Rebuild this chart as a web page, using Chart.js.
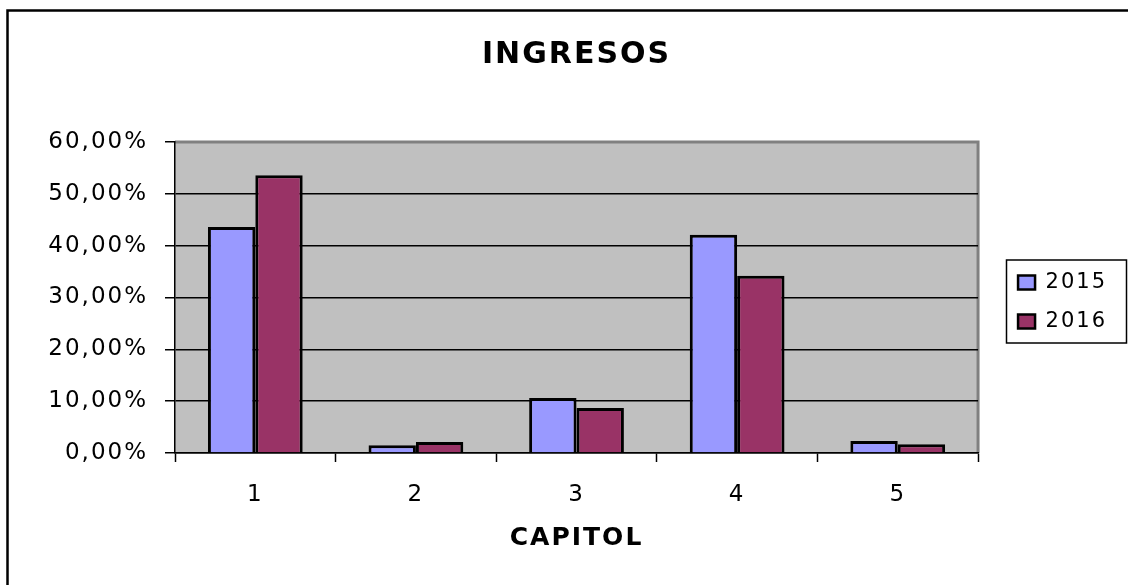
<!DOCTYPE html>
<html>
<head>
<meta charset="utf-8">
<script src="https://cdn.jsdelivr.net/npm/chart.js@4/dist/chart.umd.min.js"></script>
<style>
  html, body { margin: 0; padding: 0; background: #fff; }
  #wrap { width: 1128px; height: 585px; }
</style>
</head>
<body>
<div id="wrap"><canvas id="barchart" width="1128" height="585"></canvas></div>
<script>
var capitols = ["1", "2", "3", "4", "5"];
var dades2015 = [43.6, 1.5, 10.6, 42.1, 2.3];
var dades2016 = [53.6, 2.1, 8.7, 34.2, 1.7];
var anys = ["2015", "2016"];
var yTicks = [0, 10, 20, 30, 40, 50, 60];

var FONT = "'DejaVu Sans', 'Liberation Sans', Arial, sans-serif";
var SPACING = '2px';

// fons, vores i caixa de la llegenda
var extrasPlugin = {
    id: 'extras',
    beforeLayout: function(chart) { chart.ctx.letterSpacing = SPACING; },
    beforeDraw: function(chart) {
        var ctx = chart.ctx, a = chart.chartArea;
        ctx.letterSpacing = SPACING;

        // moure la llegenda una mica (dreta i amunt)
        var lg = chart.legend;
        if (lg) {
            var dx = 22, dy = -9;
            lg.left += dx; lg.right += dx; lg.top += dy; lg.bottom += dy;
            lg.legendHitBoxes.forEach(function(h) { h.left += dx; h.top += dy; });
        }

        ctx.save();
        ctx.fillStyle = '#c0c0c0';
        ctx.fillRect(a.left, a.top, a.right - a.left, a.bottom - a.top);
        ctx.strokeStyle = '#808080';
        ctx.lineWidth = 3;
        ctx.beginPath();
        ctx.moveTo(a.left, a.top);
        ctx.lineTo(a.right, a.top);
        ctx.lineTo(a.right, a.bottom);
        ctx.stroke();
        // vora exterior (esquerra i dalt)
        ctx.strokeStyle = '#000';
        ctx.lineWidth = 2.5;
        ctx.beginPath();
        ctx.moveTo(7.5, 585);
        ctx.lineTo(7.5, 10.5);
        ctx.lineTo(1128, 10.5);
        ctx.stroke();
        ctx.restore();
    },
    afterDraw: function(chart) {
        var lg = chart.legend;
        if (!lg || !lg.legendHitBoxes.length) return;
        var hb = lg.legendHitBoxes;
        var top = hb[0].top, bottom = hb[hb.length - 1].top + hb[hb.length - 1].height;
        var ctx = chart.ctx;
        ctx.save();
        ctx.strokeStyle = '#000';
        ctx.lineWidth = 1.5;
        ctx.strokeRect(1006.5, top - 12, 120, bottom - top + 23);
        ctx.restore();
    }
};

function barchart() {
    var ctx = document.getElementById('barchart').getContext('2d');
    var chart = new Chart(ctx, {
        type: 'bar',
        data: {
            labels: capitols,
            datasets: [{
                label: anys[0],
                backgroundColor: '#9999ff',
                borderColor: '#000',
                borderWidth: 3,
                data: dades2015
            }, {
                label: anys[1],
                backgroundColor: '#993366',
                borderColor: '#000',
                borderWidth: 3,
                data: dades2016
            }]
        },
        options: {
            responsive: false,
            animation: false,
            barPercentage: 1,
            categoryPercentage: 0.59,
            layout: { padding: { top: 37, left: 0, right: 33, bottom: 0 } },
            plugins: {
                tooltip: { enabled: false },
                title: {
                    display: true,
                    text: 'INGRESOS',
                    fullSize: false,
                    color: '#000',
                    font: { family: FONT, size: 30, weight: 'bold' },
                    padding: { top: 0, bottom: 69 }
                },
                legend: {
                    position: 'right',
                    align: 'center',
                    labels: {
                        color: '#000',
                        font: { family: FONT, size: 21 },
                        boxWidth: 17,
                        boxHeight: 14,
                        padding: 18,
                        generateLabels: function(ch) {
                            return ch.data.datasets.map(function(ds, i) {
                                return {
                                    text: ds.label,
                                    fillStyle: ds.backgroundColor,
                                    strokeStyle: '#000',
                                    lineWidth: 2.5,
                                    fontColor: '#000',
                                    datasetIndex: i
                                };
                            });
                        }
                    }
                }
            },
            scales: {
                x: {
                    afterFit: function(s) { s.height = 132; },
                    border: { color: '#000', width: 1.5 },
                    grid: {
                        drawOnChartArea: false,
                        drawTicks: true,
                        tickLength: 9,
                        tickColor: '#000',
                        tickWidth: 1.5
                    },
                    ticks: {
                        color: '#000',
                        font: { family: FONT, size: 23 },
                        padding: 19
                    },
                    title: {
                        display: true,
                        text: 'CAPITOL',
                        color: '#000',
                        font: { family: FONT, size: 25, weight: 'bold' },
                        padding: { top: 0, bottom: 32 }
                    }
                },
                y: {
                    min: 0,
                    max: 60,
                    afterFit: function(s) { s.width = 175; },
                    afterBuildTicks: function(s) {
                        s.ticks = yTicks.map(function(v) { return { value: v }; });
                    },
                    border: { color: '#000', width: 1.5 },
                    grid: {
                        color: function(c) { return c.tick && c.tick.value === 60 ? 'rgba(0,0,0,0)' : '#000'; },
                        lineWidth: 1.5,
                        tickLength: 10,
                        tickColor: '#000',
                        tickWidth: 1.5
                    },
                    ticks: {
                        color: '#000',
                        font: { family: FONT, size: 23 },
                        padding: 17,
                        callback: function(v) { return v.toFixed(2).replace('.', ',') + '%'; }
                    }
                }
            }
        },
        plugins: [extrasPlugin]
    });
}

barchart();
</script>
</body>
</html>
